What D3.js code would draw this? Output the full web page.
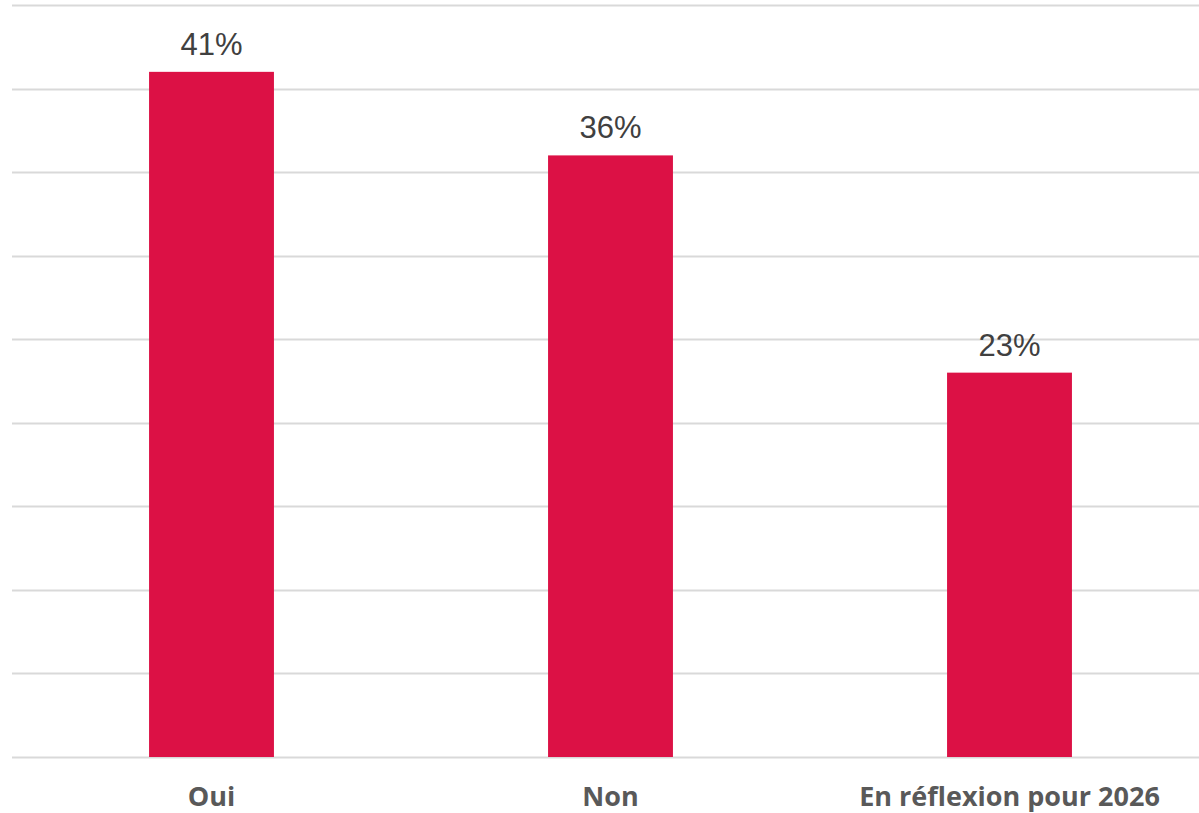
<!DOCTYPE html>
<html>
<head>
<meta charset="utf-8">
<script src="https://cdn.jsdelivr.net/npm/d3@7"></script>
<style>
  body { margin: 0; background: #fff; }
</style>
</head>
<body>
<svg></svg>
<script>
var categories = ["Oui", "Non", "En réflexion pour 2026"];
var values = [41, 36, 23];
var gridTicks = [0, 5, 10, 15, 20, 25, 30, 35, 40, 45];

var width = 1199;
var height = 813;
var svg = d3.select("svg").attr("width", width).attr("height", height);

var x = d3.scaleBand()
  .domain(categories)
  .range([12, 1209])
  .paddingInner(0.687)
  .paddingOuter(0.3435);

var y = d3.scaleLinear().domain([0, 45]).range([757, 5]);

// gridlines
svg.append("g").selectAll("line")
  .data(gridTicks)
  .enter().append("line")
  .attr("x1", 12)
  .attr("x2", 1199)
  .attr("y1", function (d) { return Math.round(y(d)) + 0.5; })
  .attr("y2", function (d) { return Math.round(y(d)) + 0.5; })
  .attr("stroke", "#d9d9d9")
  .attr("stroke-width", 2);

// bars
svg.append("g").selectAll("rect")
  .data(values)
  .enter().append("rect")
  .attr("x", function (d, i) { return x(categories[i]); })
  .attr("y", function (d) { return y(d); })
  .attr("width", x.bandwidth())
  .attr("height", function (d) { return y(0) - y(d); })
  .attr("fill", "#dc1145");

// value labels
svg.append("g").selectAll("text")
  .data(values)
  .enter().append("text")
  .attr("x", function (d, i) { return x(categories[i]) + x.bandwidth() / 2; })
  .attr("y", function (d) { return y(d) - 17; })
  .attr("text-anchor", "middle")
  .style("font-family", "'Liberation Sans', Arial, sans-serif")
  .style("font-size", "31px")
  .attr("fill", "#404040")
  .text(function (d) { return d + "%"; });

// category axis labels
var xAxis = d3.axisBottom(x).tickSize(0).tickPadding(0);
var ax = svg.append("g").attr("transform", "translate(0,757)").call(xAxis);
ax.select(".domain").remove();
ax.selectAll("text")
  .attr("y", 49)
  .attr("dy", null)
  .style("font-family", "'Open Sans', sans-serif")
  .style("font-weight", "bold")
  .style("font-size", "27px")
  .attr("fill", "#595959");
</script>
</body>
</html>
